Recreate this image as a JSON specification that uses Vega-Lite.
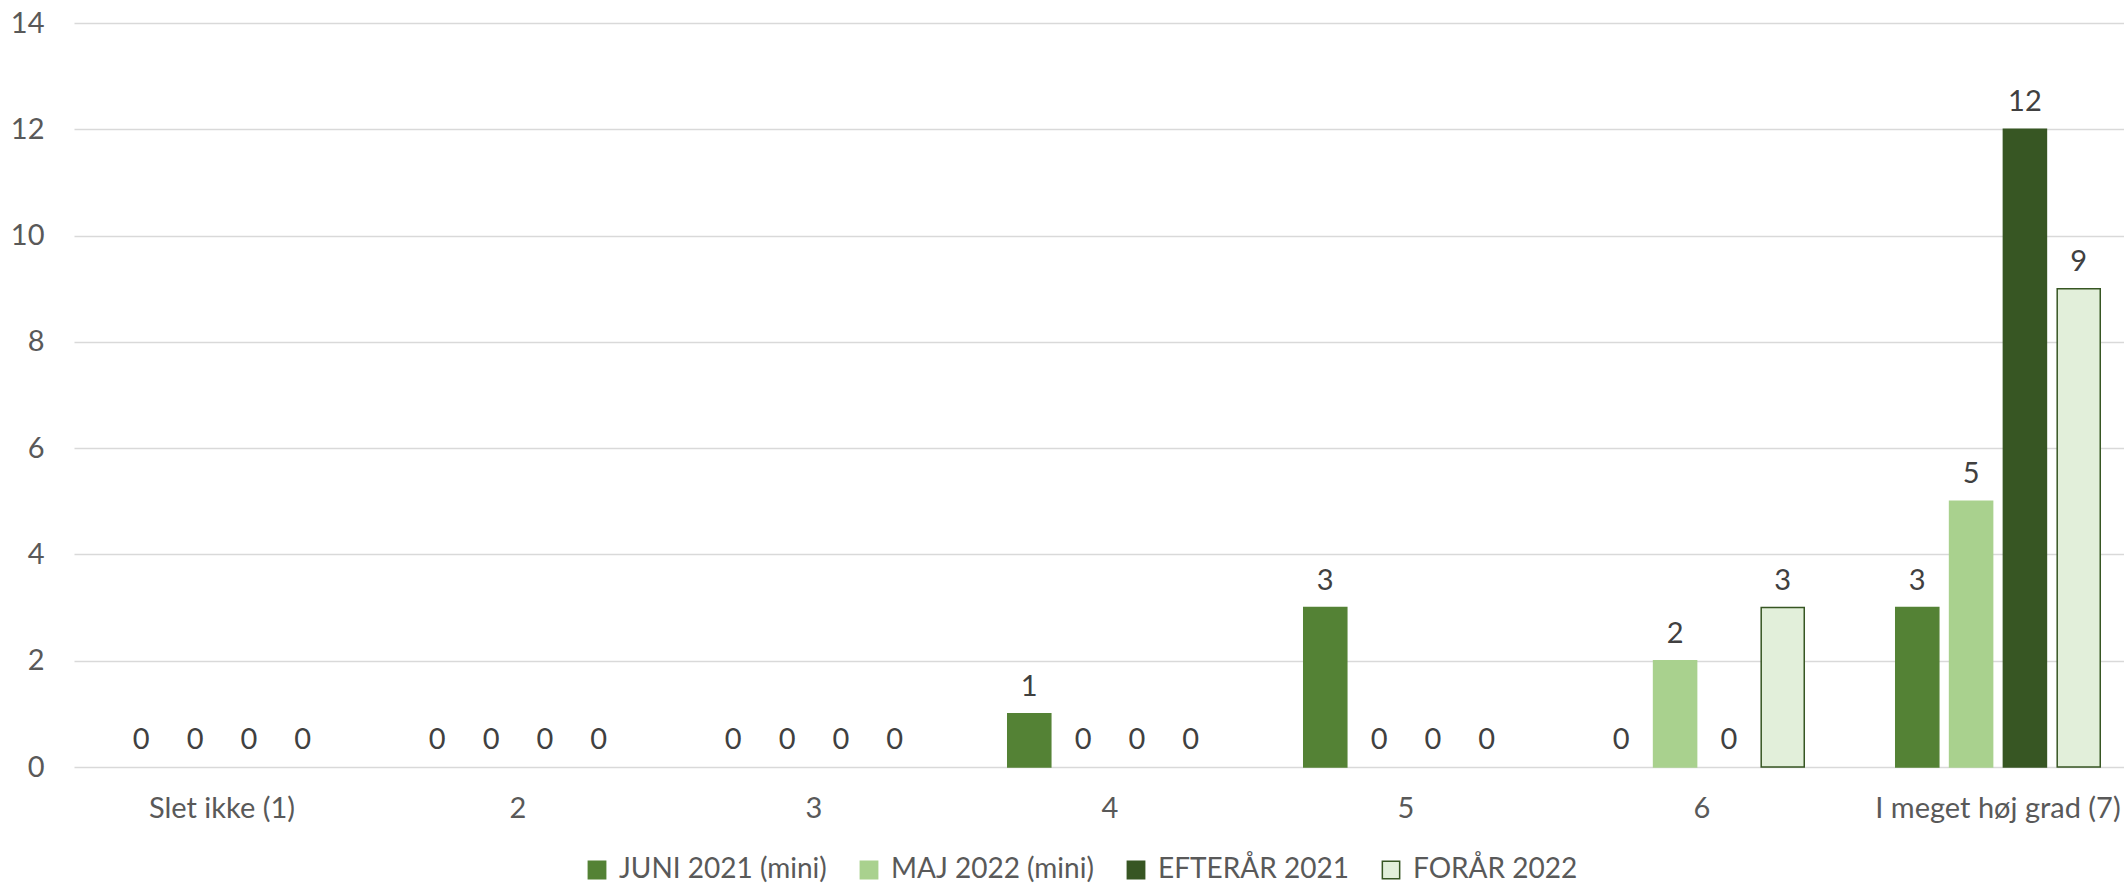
{
  "$schema": "https://vega.github.io/schema/vega-lite/v6.json",
  "autosize": {"type": "none"},
  "padding": {"left": 74, "top": 23, "right": 0, "bottom": 118},
  "width": 2050,
  "height": 744,
  "background": "white",
  "config": {
    "view": {"stroke": null},
    "font": "Lato",
    "axis": {"labelFont": "Lato", "labelColor": "#595959", "labelFontSize": 29, "titleFont": "Lato", "labelLimit": 0},
    "legend": {"labelFont": "Lato", "labelColor": "#595959", "labelFontSize": 28, "labelLimit": 0}
  },
  "data": {
    "values": [
      {"svar": "Slet ikke (1)", "serie": "JUNI 2021 (mini)", "antal": 0},
      {"svar": "Slet ikke (1)", "serie": "MAJ 2022 (mini)", "antal": 0},
      {"svar": "Slet ikke (1)", "serie": "EFTERÅR 2021", "antal": 0},
      {"svar": "Slet ikke (1)", "serie": "FORÅR 2022", "antal": 0},
      {"svar": "2", "serie": "JUNI 2021 (mini)", "antal": 0},
      {"svar": "2", "serie": "MAJ 2022 (mini)", "antal": 0},
      {"svar": "2", "serie": "EFTERÅR 2021", "antal": 0},
      {"svar": "2", "serie": "FORÅR 2022", "antal": 0},
      {"svar": "3", "serie": "JUNI 2021 (mini)", "antal": 0},
      {"svar": "3", "serie": "MAJ 2022 (mini)", "antal": 0},
      {"svar": "3", "serie": "EFTERÅR 2021", "antal": 0},
      {"svar": "3", "serie": "FORÅR 2022", "antal": 0},
      {"svar": "4", "serie": "JUNI 2021 (mini)", "antal": 1},
      {"svar": "4", "serie": "MAJ 2022 (mini)", "antal": 0},
      {"svar": "4", "serie": "EFTERÅR 2021", "antal": 0},
      {"svar": "4", "serie": "FORÅR 2022", "antal": 0},
      {"svar": "5", "serie": "JUNI 2021 (mini)", "antal": 3},
      {"svar": "5", "serie": "MAJ 2022 (mini)", "antal": 0},
      {"svar": "5", "serie": "EFTERÅR 2021", "antal": 0},
      {"svar": "5", "serie": "FORÅR 2022", "antal": 0},
      {"svar": "6", "serie": "JUNI 2021 (mini)", "antal": 0},
      {"svar": "6", "serie": "MAJ 2022 (mini)", "antal": 2},
      {"svar": "6", "serie": "EFTERÅR 2021", "antal": 0},
      {"svar": "6", "serie": "FORÅR 2022", "antal": 3},
      {"svar": "I meget høj grad (7)", "serie": "JUNI 2021 (mini)", "antal": 3},
      {"svar": "I meget høj grad (7)", "serie": "MAJ 2022 (mini)", "antal": 5},
      {"svar": "I meget høj grad (7)", "serie": "EFTERÅR 2021", "antal": 12},
      {"svar": "I meget høj grad (7)", "serie": "FORÅR 2022", "antal": 9}
    ]
  },
  "encoding": {
    "x": {
      "field": "svar",
      "type": "nominal",
      "sort": null,
      "scale": {
        "domain": ["Slet ikke (1)", "2", "3", "4", "5", "6", "I meget høj grad (7)"],
        "range": [0, 2072],
        "paddingInner": 0,
        "paddingOuter": 0
      },
      "axis": {"title": null, "labelAngle": 0, "domain": false, "ticks": false, "labelPadding": 27}
    },
    "xOffset": {
      "field": "serie",
      "type": "nominal",
      "scale": {
        "domain": ["JUNI 2021 (mini)", "MAJ 2022 (mini)", "EFTERÅR 2021", "FORÅR 2022"],
        "paddingInner": 0.2,
        "paddingOuter": 0.85
      }
    },
    "y": {
      "field": "antal",
      "type": "quantitative",
      "scale": {"domain": [0, 14], "nice": false},
      "axis": {
        "title": null,
        "values": [0, 2, 4, 6, 8, 10, 12, 14],
        "domain": false,
        "ticks": false,
        "labelPadding": 30,
        "gridColor": "#D9D9D9",
        "gridWidth": 1.5
      }
    }
  },
  "layer": [
    {
      "transform": [{"filter": "datum.antal > 0"}],
      "mark": {"type": "bar", "strokeWidth": 1.5},
      "encoding": {
        "fill": {
          "field": "serie",
          "type": "nominal",
          "scale": {
            "domain": ["JUNI 2021 (mini)", "MAJ 2022 (mini)", "EFTERÅR 2021", "FORÅR 2022"],
            "range": ["#548235", "#A9D18E", "#375623", "#E2EFDA"]
          },
          "legend": {
            "title": null,
            "orient": "none",
            "direction": "horizontal",
            "columns": 4,
            "legendX": 509,
            "legendY": 833,
            "padding": 0,
            "symbolType": "square",
            "symbolSize": 300,
            "symbolStrokeWidth": 1.5,
            "labelOffset": 8,
            "columnPadding": 28
          }
        },
        "stroke": {
          "field": "serie",
          "type": "nominal",
          "scale": {
            "domain": ["JUNI 2021 (mini)", "MAJ 2022 (mini)", "EFTERÅR 2021", "FORÅR 2022"],
            "range": ["#548235", "#A9D18E", "#375623", "#375623"]
          },
          "legend": null
        }
      }
    },
    {
      "mark": {"type": "text", "baseline": "alphabetic", "dy": -18, "fontSize": 29, "color": "#404040", "font": "Lato"},
      "encoding": {
        "text": {"field": "antal", "type": "quantitative"}
      }
    }
  ]
}
